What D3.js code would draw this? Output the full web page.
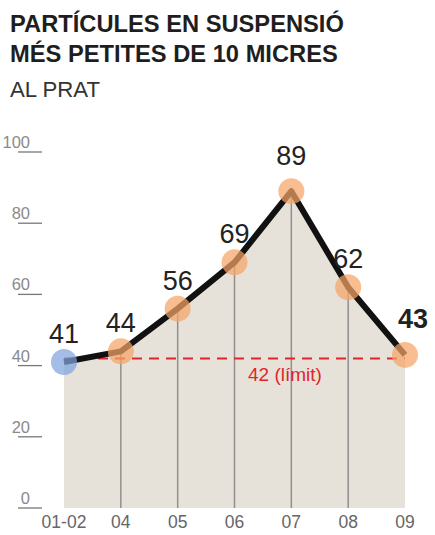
<!DOCTYPE html>
<meta charset="utf-8">
<style>
body { margin: 0; background: #fff; }
svg text { font-family: "Liberation Sans", Arial, sans-serif; }
.title { font-size: 23.7px; font-weight: bold; fill: #1e1e1e; }
.subtitle { font-size: 22.2px; fill: #333; }
.tick-label { font-size: 16.5px; fill: #8a8a8a; }
.x-label { font-size: 17.5px; fill: #666; }
.value { font-size: 27px; fill: #222; }
.limit-label { font-size: 19px; fill: #e0262b; }
</style>
<body>
<div id="chart"></div>
<script src="https://cdn.jsdelivr.net/npm/d3@7"></script>
<script>
var width = 435,
    height = 535;

// data
var years = ["01-02", "04", "05", "06", "07", "08", "09"];
var values = [41, 44, 56, 69, 89, 62, 43];
var yTicks = [0, 20, 40, 60, 80, 100];
var limit = 42;
var limitText = "42 (límit)";
var titleLines = ["PARTÍCULES EN SUSPENSIÓ", "MÉS PETITES DE 10 MICRES"];
var subtitle = "AL PRAT";

var data = years.map(function(y, i) { return { year: y, value: values[i] }; });

var svg = d3.select("#chart").append("svg")
    .attr("width", width)
    .attr("height", height);

var x = d3.scalePoint()
    .domain(years)
    .range([64, 405]);

var y = d3.scaleLinear()
    .domain([0, 100])
    .range([508, 152]);

// titles
svg.selectAll("text.title")
  .data(titleLines)
  .enter().append("text")
    .attr("class", "title")
    .attr("x", 10)
    .attr("y", function(d, i) { return 32 + i * 30; })
    .text(function(d) { return d; });

svg.append("text")
    .attr("class", "subtitle")
    .attr("x", 10)
    .attr("y", 97)
    .text(subtitle);

// y ticks: label with short underline
var yt = svg.append("g").selectAll("g")
  .data(yTicks)
  .enter().append("g");

yt.append("line")
    .attr("x1", 18)
    .attr("x2", 42)
    .attr("y1", function(d) { return y(d); })
    .attr("y2", function(d) { return y(d); })
    .attr("stroke", "#777")
    .attr("stroke-width", 1.3);

yt.append("text")
    .attr("class", "tick-label")
    .attr("x", 30)
    .attr("y", function(d) { return y(d) - 4; })
    .attr("text-anchor", "end")
    .text(function(d) { return d; });

// area under the line
var area = d3.area()
    .x(function(d) { return x(d.year); })
    .y0(y(0))
    .y1(function(d) { return y(d.value); });

svg.append("path")
    .datum(data)
    .attr("d", area)
    .attr("fill", "#e7e2d9");

// vertical drop lines for interior points
svg.append("g").selectAll("line")
  .data(data.slice(1, -1))
  .enter().append("line")
    .attr("x1", function(d) { return x(d.year); })
    .attr("x2", function(d) { return x(d.year); })
    .attr("y1", function(d) { return y(d.value); })
    .attr("y2", y(0))
    .attr("stroke", "#8f8f8f")
    .attr("stroke-width", 1.5);

// limit line
svg.append("line")
    .attr("x1", x(years[0]))
    .attr("x2", x(years[years.length - 1]))
    .attr("y1", y(limit))
    .attr("y2", y(limit))
    .attr("stroke", "#e0262b")
    .attr("stroke-width", 2)
    .attr("stroke-dasharray", "10,7");

svg.append("text")
    .attr("class", "limit-label")
    .attr("x", 285)
    .attr("y", y(limit) + 23)
    .attr("text-anchor", "middle")
    .text(limitText);

// main line
var line = d3.line()
    .x(function(d) { return x(d.year); })
    .y(function(d) { return y(d.value); });

svg.append("path")
    .datum(data)
    .attr("d", line)
    .attr("fill", "none")
    .attr("stroke", "#111")
    .attr("stroke-width", 6)
    .attr("stroke-linejoin", "round");

// dots
svg.append("g").selectAll("circle")
  .data(data)
  .enter().append("circle")
    .attr("cx", function(d) { return x(d.year); })
    .attr("cy", function(d) { return y(d.value); })
    .attr("r", 13)
    .attr("fill", function(d, i) { return i === 0 ? "#7fa3dc" : "#f5a566"; })
    .attr("fill-opacity", 0.72);

// value labels
svg.append("g").selectAll("text")
  .data(data)
  .enter().append("text")
    .attr("class", "value")
    .attr("x", function(d, i) { return x(d.year) + (i === data.length - 1 ? 8 : 0); })
    .attr("y", function(d, i) {
      var off = 19;
      if (d.value === d3.max(values)) off = 26;
      if (i === data.length - 1) off = 27;
      return y(d.value) - off;
    })
    .attr("text-anchor", "middle")
    .style("font-weight", function(d, i) { return i === data.length - 1 ? "bold" : "normal"; })
    .text(function(d) { return d.value; });

// x labels
svg.append("g").selectAll("text")
  .data(years)
  .enter().append("text")
    .attr("class", "x-label")
    .attr("x", function(d) { return x(d); })
    .attr("y", 528)
    .attr("text-anchor", "middle")
    .text(function(d) { return d; });
</script>
</body>
